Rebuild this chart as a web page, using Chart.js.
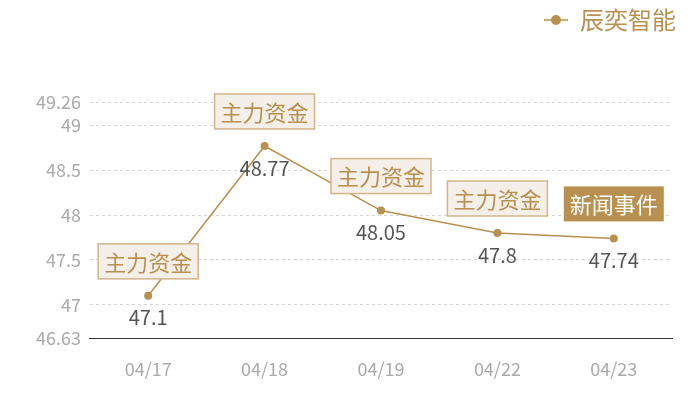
<!DOCTYPE html>
<html>
<head>
<meta charset="utf-8">
<script src="https://cdn.jsdelivr.net/npm/chart.js@4/dist/chart.umd.min.js"></script>
<style>
  html, body { margin: 0; padding: 0; background: #ffffff; }
  #wrap { width: 700px; height: 400px; }
</style>
</head>
<body>
<div id="wrap"><canvas id="c"></canvas></div>
<script>
// 数据
var dates = ['04/17', '04/18', '04/19', '04/22', '04/23'];
var prices = [47.1, 48.77, 48.05, 47.8, 47.74];
var eventLabels = ['主力资金', '主力资金', '主力资金', '主力资金', '新闻事件'];
var eventFilled = [false, false, false, false, true];
var yTicks = [46.63, 47, 47.5, 48, 48.5, 49, 49.26];
var seriesName = '辰奕智能';

var gold = '#b8904f';
var fontCN = '"Noto Sans CJK SC", "Noto Sans", sans-serif';

// 图例图标：短线 + 圆点
function legendIcon() {
    var cv = document.createElement('canvas');
    cv.width = 24; cv.height = 12;
    var g = cv.getContext('2d');
    g.strokeStyle = gold;
    g.lineWidth = 1.5;
    g.beginPath(); g.moveTo(0, 6); g.lineTo(24, 6); g.stroke();
    g.fillStyle = gold;
    g.beginPath(); g.arc(12, 6, 5, 0, Math.PI * 2); g.fill();
    return cv;
}

// 图例下方留白，并稍微右移
var legendGap = {
    id: 'legendGap',
    beforeInit: function(chart) {
        var fit = chart.legend.fit;
        chart.legend.fit = function() {
            fit.bind(chart.legend)();
            this.height += 60;
        };
    },
    afterLayout: function(chart) {
        chart.legend.left += 12;
        chart.legend.right += 12;
    }
};

// 数值标签 + 事件标注
var annotatePlugin = {
    id: 'annotate',
    afterDatasetsDraw: function(chart) {
        var ctx = chart.ctx;
        var meta = chart.getDatasetMeta(0);
        ctx.save();
        meta.data.forEach(function(pt, i) {
            // 数值
            ctx.font = '20px ' + fontCN;
            ctx.fillStyle = '#555555';
            ctx.textAlign = 'center';
            ctx.textBaseline = 'middle';
            ctx.fillText(String(prices[i]), pt.x, pt.y + 22);

            // 标注框
            ctx.font = '22px ' + fontCN;
            var w = ctx.measureText(eventLabels[i]).width + 12;
            var h = 35;
            var bx = pt.x - w / 2;
            var by = pt.y - 17 - h;
            if (eventFilled[i]) {
                ctx.fillStyle = gold;
                ctx.fillRect(bx, by, w, h);
                ctx.fillStyle = '#ffffff';
            } else {
                ctx.fillStyle = '#f4efe8';
                ctx.fillRect(bx, by, w, h);
                ctx.strokeStyle = '#d2b58a';
                ctx.lineWidth = 1.5;
                ctx.strokeRect(bx, by, w, h);
                ctx.fillStyle = gold;
            }
            ctx.fillText(eventLabels[i], pt.x, by + h / 2 + 1);
        });
        ctx.restore();
    }
};

new Chart(document.getElementById('c').getContext('2d'), {
    type: 'line',
    data: {
        labels: dates,
        datasets: [{
            label: seriesName,
            data: prices,
            borderColor: gold,
            backgroundColor: gold,
            borderWidth: 1.5,
            pointRadius: 4,
            pointBackgroundColor: gold,
            pointBorderWidth: 0,
            pointStyle: 'circle',
            tension: 0
        }]
    },
    options: {
        responsive: true,
        maintainAspectRatio: false,
        animation: false,
        layout: { padding: { top: 0, right: 28, left: 27, bottom: 0 } },
        plugins: {
            legend: {
                position: 'top',
                align: 'end',
                labels: {
                    usePointStyle: true,
                    pointStyle: legendIcon(),
                    color: gold,
                    font: { size: 24, family: fontCN },
                    padding: 8
                }
            },
            tooltip: { enabled: false }
        },
        scales: {
            x: {
                offset: true,
                grid: { display: false, drawTicks: false },
                border: { color: '#333333', width: 1 },
                ticks: { color: '#aaaaaa', font: { size: 18, family: fontCN, lineHeight: 1 }, padding: 22 }
            },
            y: {
                min: 46.63,
                max: 49.26,
                afterBuildTicks: function(axis) {
                    axis.ticks = yTicks.map(function(v) { return { value: v }; });
                },
                grid: { color: '#d5d5d5', drawTicks: false },
                border: { display: false, dash: [3, 3] },
                ticks: {
                    color: '#aaaaaa',
                    font: { size: 18, family: fontCN },
                    padding: 9,
                    callback: function(v) { return String(v); }
                }
            }
        }
    },
    plugins: [legendGap, annotatePlugin]
});
</script>
</body>
</html>
